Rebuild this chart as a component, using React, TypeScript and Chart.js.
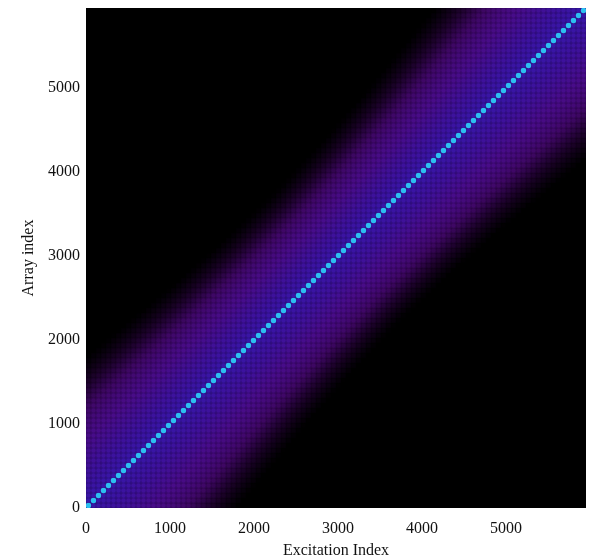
import React, { useEffect, useRef } from "react";
import { Chart, registerables } from "chart.js";

Chart.register(...registerables);

// ---- data ----
const AXIS_MAX = 5952;
const CELL_COUNT = 100;
const X_TICKS = [0, 1000, 2000, 3000, 4000, 5000];
const Y_TICKS = [0, 1000, 2000, 3000, 4000, 5000];
const X_TITLE = "Excitation Index";
const Y_TITLE = "Array index";
// band half-width (in cells) read at 0%, 10%, ..., 100% along the diagonal
const BAND_HALF_WIDTH = [25, 24, 22.5, 21, 20, 19.5, 20, 21, 22.5, 24, 25];
// off-diagonal magnitude read at 0, 0.1, ..., 1.3 of the local half-width
const BAND_PROFILE = [0.62, 0.58, 0.55, 0.52, 0.48, 0.44, 0.4, 0.35, 0.29, 0.22, 0.15, 0.09, 0.04, 0];
// magnitude on the main diagonal
const DIAGONAL_VALUE = 1;

// colormap: black -> purple -> indigo -> cyan
const COLOR_STOPS: [number, number[]][] = [
  [0, [0, 0, 0]],
  [0.12, [28, 2, 42]],
  [0.27, [62, 7, 100]],
  [0.42, [72, 12, 136]],
  [0.55, [60, 18, 158]],
  [0.65, [52, 26, 176]],
  [1, [44, 192, 240]],
];

function lerpArr(arr: number[], t: number): number {
  if (t <= 0) return arr[0];
  if (t >= arr.length - 1) return arr[arr.length - 1];
  const i = Math.floor(t);
  const f = t - i;
  return arr[i] * (1 - f) + arr[i + 1] * f;
}

function colorFor(v: number, k = 1): string {
  let c = COLOR_STOPS[COLOR_STOPS.length - 1][1];
  for (let s = 0; s < COLOR_STOPS.length - 1; s++) {
    const [a, ca] = COLOR_STOPS[s];
    const [b, cb] = COLOR_STOPS[s + 1];
    if (v >= a && v <= b) {
      const f = (v - a) / (b - a);
      c = ca.map((x, n) => x + (cb[n] - x) * f);
      break;
    }
  }
  return `rgb(${Math.round(c[0] * k)},${Math.round(c[1] * k)},${Math.round(c[2] * k)})`;
}

type Cell = { x: number; y: number; v: number; diag: boolean };

function buildCells(): Cell[] {
  const size = AXIS_MAX / CELL_COUNT;
  const cells: Cell[] = [];
  for (let j = 0; j < CELL_COUNT; j++) {
    for (let i = 0; i < CELL_COUNT; i++) {
      const d = Math.abs(i - j);
      const pos = ((i + j) / 2 / (CELL_COUNT - 1)) * (BAND_HALF_WIDTH.length - 1);
      const hw = lerpArr(BAND_HALF_WIDTH, pos);
      let v: number;
      if (d === 0) v = DIAGONAL_VALUE;
      else v = lerpArr(BAND_PROFILE, (d / hw) * 10);
      if (v <= 0.001) continue;
      cells.push({ x: (i + 0.5) * size, y: (j + 0.5) * size, v, diag: d === 0 });
    }
  }
  return cells;
}

export default function App() {
  const ref = useRef<HTMLCanvasElement | null>(null);

  useEffect(() => {
    if (!ref.current) return;
    const cells = buildCells();
    const pts = cells.map((c) => ({ x: c.x, y: c.y }));
    const font = { family: "'Liberation Serif', 'Times New Roman', serif", size: 16 };

    const bgPlugin = {
      id: "plotBg",
      beforeDatasetsDraw(chart: any) {
        const { ctx, chartArea } = chart;
        ctx.save();
        ctx.fillStyle = "#000";
        ctx.fillRect(chartArea.left, chartArea.top, chartArea.right - chartArea.left, chartArea.bottom - chartArea.top);
        ctx.restore();
      },
    };

    const chart = new Chart(ref.current, {
      type: "scatter",
      data: {
        datasets: [
          {
            data: pts,
            order: 2,
            pointStyle: "rect",
            pointRadius: 3.6,
            borderWidth: 0,
            pointBorderWidth: 0,
            pointBackgroundColor: cells.map((c) => (c.diag ? colorFor(0.7, 0.9) : colorFor(c.v, 0.8))),
            clip: 0,
          } as any,
          {
            data: pts,
            order: 1,
            pointStyle: "circle",
            pointRadius: cells.map((c) => (c.diag ? 2.7 : 2.2)),
            borderWidth: 0,
            pointBorderWidth: 0,
            pointBackgroundColor: cells.map((c) => colorFor(c.v, 1)),
            clip: 0,
          } as any,
        ],
      },
      options: {
        responsive: false,
        animation: false,
        events: [],
        layout: { padding: { top: 8, right: 5, left: 0, bottom: 0 } },
        plugins: { legend: { display: false }, tooltip: { enabled: false } },
        scales: {
          x: {
            type: "linear",
            min: 0,
            max: AXIS_MAX,
            afterBuildTicks: (s: any) => {
              s.ticks = X_TICKS.map((v) => ({ value: v }));
            },
            afterFit: (s: any) => {
              s.height = 51;
              s.paddingLeft = 0;
              s.paddingRight = 0;
            },
            grid: { display: false, drawTicks: false },
            border: { display: false },
            ticks: { color: "#111", font, padding: 11, maxRotation: 0, callback: (v: any) => String(v) },
            title: { display: true, text: X_TITLE, color: "#111", font, padding: { top: 0, bottom: -1 } },
          },
          y: {
            type: "linear",
            min: 0,
            max: AXIS_MAX,
            afterBuildTicks: (s: any) => {
              s.ticks = Y_TICKS.map((v) => ({ value: v }));
            },
            afterFit: (s: any) => {
              s.width = 86;
              s.paddingTop = 0;
              s.paddingBottom = 0;
            },
            grid: { display: false, drawTicks: false },
            border: { display: false },
            ticks: { color: "#111", font, padding: 6, callback: (v: any) => String(v) },
            title: { display: true, text: Y_TITLE, color: "#111", font, padding: { top: 19, bottom: 0 } },
          },
        },
      },
      plugins: [bgPlugin],
    });
    return () => chart.destroy();
  }, []);

  return (
    <div style={{ position: "fixed", left: 0, top: 0, width: 591, height: 559, background: "#fff" }}>
      <canvas ref={ref} width={591} height={559} style={{ display: "block", width: 591, height: 559 }} />
    </div>
  );
}
